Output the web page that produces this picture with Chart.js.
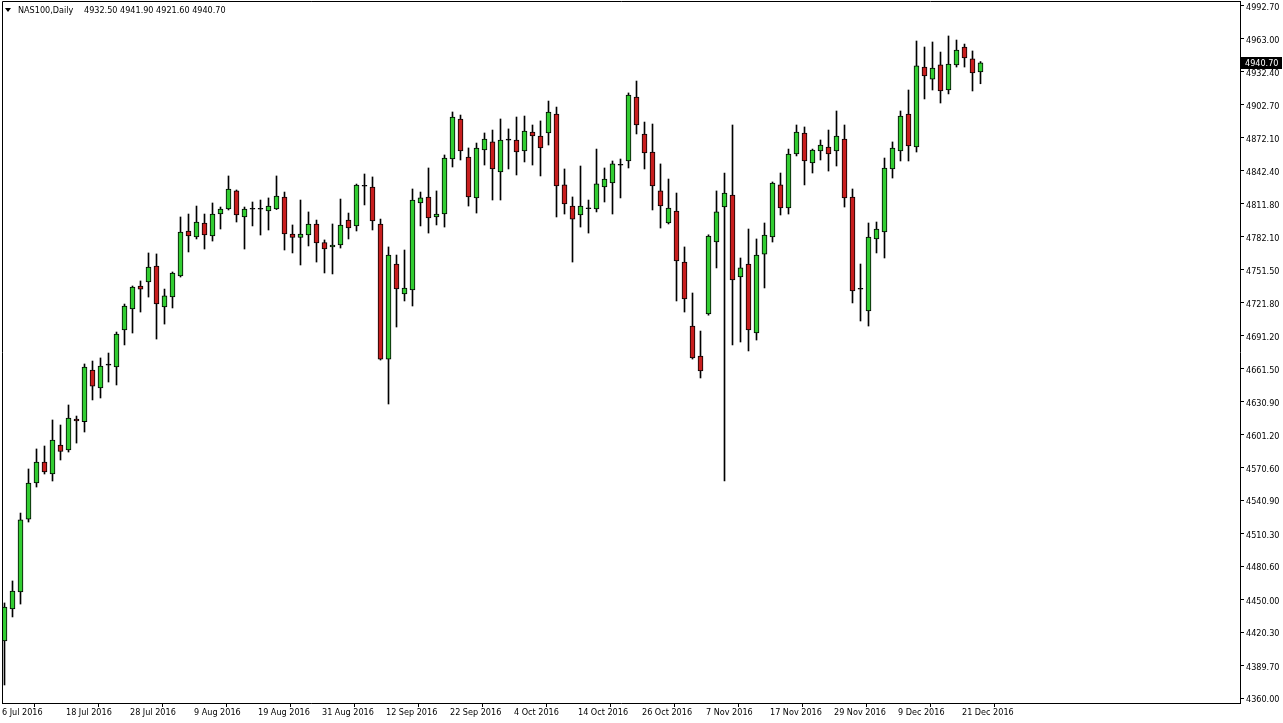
<!DOCTYPE html>
<html>
<head>
<meta charset="utf-8">
<script src="https://cdn.jsdelivr.net/npm/chart.js@4"></script>
<style>
  html, body { margin: 0; padding: 0; background: #fff; overflow: hidden; }
</style>
</head>
<body>
<canvas id="chart" width="1283" height="723"></canvas>
<script>
// NAS100 daily candles, 6 Jul 2016 .. 23 Dec 2016
const symbolTitle = 'NAS100,Daily';

const opens = [
  4412.1, 4441.4, 4456.9, 4523.6, 4556.6, 4575.8, 4564.8, 4591.3, 4586.8, 4615.1,
  4612.6, 4659.9, 4643.4, 4664.3, 4662.6, 4696.5, 4715.7, 4736.7, 4740.4, 4755.0,
  4717.5, 4726.6, 4745.8, 4786.9, 4781.5, 4794.3, 4782.4, 4802.5, 4807.1, 4823.6,
  4799.8, 4806.9, 4806.9, 4805.3, 4807.1, 4818.1, 4784.2, 4781.0, 4783.3, 4793.4,
  4776.5, 4772.4, 4774.2, 4797.0, 4791.6, 4827.9, 4827.2, 4793.4, 4669.9, 4756.8,
  4729.4, 4733.0, 4812.6, 4818.1, 4799.8, 4802.5, 4852.8, 4889.4, 4854.6, 4817.2,
  4861.0, 4868.4, 4840.9, 4870.0, 4870.2, 4860.1, 4877.5, 4873.8, 4876.6, 4893.9,
  4829.1, 4809.8, 4801.6, 4807.3, 4807.1, 4827.2, 4830.9, 4847.1, 4851.0, 4909.5,
  4875.7, 4859.2, 4823.6, 4794.3, 4805.3, 4758.6, 4700.1, 4672.7, 4711.1, 4776.9,
  4808.9, 4819.9, 4744.9, 4756.8, 4693.7, 4765.9, 4781.5, 4829.1, 4808.0, 4857.4,
  4876.6, 4849.2, 4860.1, 4863.8, 4860.1, 4871.1, 4818.1, 4733.7, 4713.8, 4779.7,
  4786.1, 4843.7, 4860.1, 4893.9, 4863.8, 4936.9, 4925.9, 4938.8, 4915.9, 4938.8,
  4955.2, 4944.3, 4932.5
];
const highs = [
  4446.9, 4467.0, 4529.1, 4569.4, 4587.7, 4590.4, 4614.2, 4609.6, 4627.9, 4617.8,
  4665.4, 4668.1, 4670.9, 4675.4, 4694.6, 4720.2, 4736.7, 4741.3, 4766.9, 4766.0,
  4733.9, 4749.5, 4799.8, 4802.5, 4809.8, 4802.5, 4812.6, 4808.9, 4837.3, 4824.5,
  4808.9, 4813.5, 4815.3, 4817.2, 4837.3, 4822.6, 4792.5, 4815.3, 4804.4, 4797.0,
  4778.8, 4793.4, 4816.2, 4803.4, 4829.9, 4839.1, 4836.4, 4797.9, 4772.4, 4765.0,
  4769.6, 4825.4, 4822.6, 4844.6, 4823.6, 4856.5, 4895.8, 4893.0, 4862.9, 4867.4,
  4876.6, 4879.3, 4889.4, 4880.3, 4891.2, 4892.1, 4883.9, 4887.6, 4905.8, 4900.3,
  4843.7, 4818.1, 4846.4, 4815.3, 4861.9, 4844.6, 4851.0, 4852.8, 4913.2, 4924.1,
  4886.6, 4884.8, 4848.3, 4834.5, 4821.7, 4772.4, 4730.3, 4695.5, 4783.5, 4823.6,
  4840.0, 4883.9, 4762.3, 4788.8, 4779.7, 4794.3, 4831.8, 4840.0, 4861.9, 4883.9,
  4882.1, 4861.9, 4870.2, 4879.3, 4896.7, 4883.9, 4825.4, 4756.8, 4794.3, 4795.2,
  4853.7, 4868.4, 4896.7, 4915.9, 4960.7, 4955.2, 4959.8, 4950.6, 4965.3, 4961.6,
  4957.9, 4951.6, 4941.9
];
const lows = [
  4371.9, 4434.1, 4445.9, 4520.9, 4552.9, 4564.8, 4558.4, 4577.6, 4584.9, 4593.1,
  4603.2, 4632.5, 4634.3, 4648.9, 4646.2, 4682.8, 4693.7, 4712.9, 4726.6, 4688.2,
  4701.9, 4716.6, 4744.9, 4767.8, 4779.7, 4770.5, 4777.8, 4788.8, 4806.2, 4795.2,
  4770.5, 4791.6, 4783.3, 4787.9, 4806.6, 4769.6, 4766.9, 4755.9, 4773.3, 4758.6,
  4748.6, 4747.7, 4771.4, 4779.7, 4787.0, 4810.8, 4787.9, 4669.0, 4628.8, 4699.2,
  4723.0, 4718.4, 4791.6, 4785.1, 4792.5, 4790.6, 4845.5, 4851.9, 4809.8, 4803.4,
  4847.3, 4815.3, 4815.3, 4843.7, 4838.2, 4850.1, 4847.3, 4837.3, 4865.6, 4799.8,
  4802.5, 4758.6, 4790.6, 4785.1, 4804.4, 4813.5, 4802.5, 4817.2, 4844.6, 4875.7,
  4843.7, 4806.2, 4789.7, 4793.4, 4723.0, 4712.9, 4669.9, 4652.6, 4710.0, 4753.2,
  4558.4, 4682.8, 4685.5, 4677.3, 4687.3, 4734.9, 4776.9, 4801.6, 4802.5, 4855.6,
  4829.1, 4840.0, 4851.9, 4841.8, 4846.4, 4808.9, 4721.2, 4704.7, 4700.1, 4766.9,
  4762.3, 4835.4, 4851.0, 4851.0, 4859.2, 4907.7, 4915.9, 4904.0, 4912.3, 4936.9,
  4936.9, 4915.0, 4921.6
];
const closes = [
  4443.2, 4457.8, 4522.8, 4556.6, 4575.8, 4566.6, 4595.9, 4585.4, 4616.0, 4613.3,
  4662.6, 4645.1, 4663.5, 4664.3, 4692.8, 4718.4, 4735.8, 4733.9, 4754.1, 4720.2,
  4727.6, 4748.6, 4786.1, 4782.4, 4795.2, 4783.3, 4802.5, 4807.1, 4825.4, 4801.6,
  4807.1, 4806.9, 4806.9, 4809.8, 4819.0, 4784.2, 4781.0, 4784.2, 4793.4, 4776.0,
  4770.5, 4774.2, 4792.5, 4789.7, 4829.0, 4827.9, 4796.1, 4669.9, 4765.0, 4734.0,
  4734.9, 4815.3, 4817.2, 4798.9, 4802.5, 4853.7, 4891.2, 4860.1, 4818.1, 4862.9,
  4871.1, 4843.7, 4870.2, 4870.0, 4859.2, 4878.4, 4873.8, 4862.9, 4895.8, 4828.1,
  4811.7, 4797.9, 4809.8, 4807.3, 4830.0, 4834.5, 4848.3, 4847.1, 4911.3, 4883.9,
  4858.3, 4828.1, 4809.8, 4808.0, 4759.6, 4724.8, 4670.9, 4659.0, 4782.4, 4804.4,
  4821.7, 4742.2, 4753.2, 4696.5, 4765.0, 4783.3, 4830.9, 4808.0, 4857.4, 4877.5,
  4851.0, 4861.0, 4865.6, 4857.4, 4873.8, 4817.2, 4732.1, 4733.7, 4781.5, 4788.8,
  4844.6, 4862.9, 4892.1, 4864.7, 4937.9, 4928.7, 4936.0, 4915.0, 4939.7, 4952.5,
  4945.2, 4931.5, 4940.7
];

// one date label every 8 bars
const dateTicks = [
  '6 Jul 2016', '18 Jul 2016', '28 Jul 2016', '9 Aug 2016', '19 Aug 2016', '31 Aug 2016',
  '12 Sep 2016', '22 Sep 2016', '4 Oct 2016', '14 Oct 2016', '26 Oct 2016', '7 Nov 2016',
  '17 Nov 2016', '29 Nov 2016', '9 Dec 2016', '21 Dec 2016'
];
const barsPerTick = 8;

const priceTicks = [
  4360.00, 4389.70, 4420.30, 4450.00, 4480.60, 4510.30, 4540.90, 4570.60, 4601.20, 4630.90,
  4661.50, 4691.20, 4721.80, 4751.50, 4782.10, 4811.80, 4842.40, 4872.10, 4902.70, 4932.40,
  4963.00, 4992.70
];

const FONT = { family: "Tahoma, 'DejaVu Sans Condensed', 'Liberation Sans', sans-serif", size: 9 };
const UP = '#32CD32';
const DOWN = '#C81E1E';
const X_SHIFT = 0.3125; // label tick sits at the bar's left edge

const idx = opens.map((_, i) => i);
const bodies = idx.map(i => ({ x: i, y: [opens[i], closes[i]] }));
const wicks = idx.map(i => ({ x: i, y: [lows[i], highs[i]] }));
const bodyColors = idx.map(i => closes[i] > opens[i] ? UP : (closes[i] < opens[i] ? DOWN : '#000'));

const mtDecor = {
  id: 'mtDecor',
  afterDraw(chart) {
    const { ctx, chartArea: a } = chart;
    const y = chart.scales.y;
    ctx.save();
    // frame left + top
    ctx.strokeStyle = '#000';
    ctx.lineWidth = 1;
    ctx.beginPath();
    ctx.moveTo(a.left + 0.5, a.bottom);
    ctx.lineTo(a.left + 0.5, a.top + 0.5);
    ctx.lineTo(a.right, a.top + 0.5);
    ctx.stroke();

    // header
    ctx.fillStyle = '#000';
    ctx.beginPath();
    ctx.moveTo(5, 8); ctx.lineTo(11, 8); ctx.lineTo(8, 12); ctx.closePath();
    ctx.fill();
    ctx.font = `${FONT.size}px ${FONT.family}`;
    ctx.textBaseline = 'middle';
    ctx.textAlign = 'left';
    const last = closes.length - 1;
    ctx.fillText(symbolTitle, 18, 11);
    ctx.fillText([opens[last], highs[last], lows[last], closes[last]].map(v => v.toFixed(2)).join(' '), 84, 11);

    // current price box
    const py = Math.round(y.getPixelForValue(closes[last]));
    ctx.fillStyle = '#000';
    ctx.fillRect(a.right + 1, py - 6, 41, 12);
    ctx.fillStyle = '#fff';
    ctx.fillText(closes[last].toFixed(2), a.right + 5, py + 1);
    ctx.restore();
  }
};

new Chart(document.getElementById('chart').getContext('2d'), {
  type: 'bar',
  data: {
    datasets: [
      {
        data: bodies,
        backgroundColor: bodyColors,
        borderColor: '#000',
        borderWidth: 1,
        borderSkipped: false,
        barThickness: 5,
        minBarLength: 1,
        grouped: false,
        order: 1
      },
      {
        data: wicks,
        backgroundColor: '#000',
        borderWidth: 0,
        barThickness: 1,
        grouped: false,
        order: 2
      }
    ]
  },
  options: {
    responsive: false,
    animation: false,
    layout: { padding: { left: 2, top: 1, right: 0, bottom: 0 } },
    plugins: { legend: { display: false }, tooltip: { enabled: false } },
    scales: {
      x: {
        type: 'linear',
        min: -X_SHIFT,
        max: 154.4375,
        offset: false,
        grid: { drawOnChartArea: false, drawTicks: true, tickLength: 4, color: '#000' },
        border: { display: true, color: '#000' },
        afterBuildTicks: s => { s.ticks = dateTicks.map((_, k) => ({ value: k * barsPerTick - X_SHIFT })); },
        afterFit: s => { s.height = 20; s.paddingLeft = 0; s.paddingRight = 0; },
        ticks: {
          font: FONT, color: '#000', align: 'start', maxRotation: 0, minRotation: 0,
          autoSkip: false, padding: 0,
          callback: v => dateTicks[Math.round((v + X_SHIFT) / barsPerTick)]
        }
      },
      y: {
        position: 'right',
        min: 4355.43,
        max: 4997.27,
        grid: { drawOnChartArea: false, drawTicks: true, tickLength: 4, color: '#000' },
        border: { display: true, color: '#000' },
        afterBuildTicks: s => { s.ticks = priceTicks.map(v => ({ value: v })); },
        afterFit: s => { s.width = 43; s.paddingTop = 0; s.paddingBottom = 0; },
        ticks: {
          // empty first line nudges the label ~2px down, like MT4's label placement
          font: { family: FONT.family, size: FONT.size, lineHeight: '4px' },
          color: '#000', padding: 2, autoSkip: false,
          callback: v => ['', Number(v).toFixed(2)]
        }
      }
    }
  },
  plugins: [mtDecor]
});
</script>
</body>
</html>
